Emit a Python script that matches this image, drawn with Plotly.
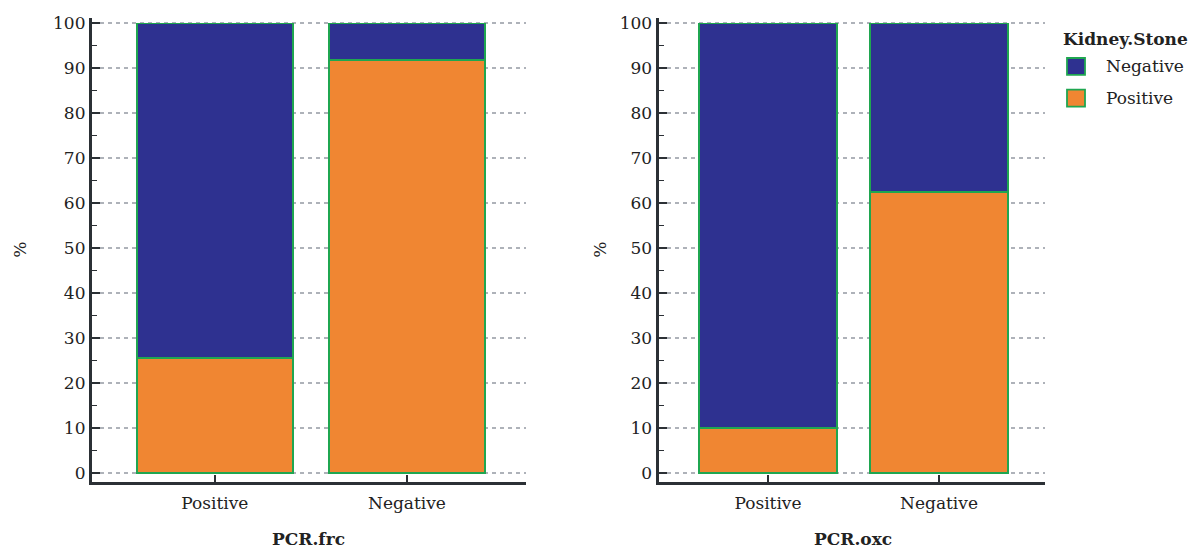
import plotly.graph_objects as go

# Share of kidney-stone status (%) within each PCR result group
categories = ["Positive", "Negative"]
frc_stone_positive = [25.5, 91.8]
frc_stone_negative = [74.5, 8.2]
oxc_stone_positive = [10.0, 62.5]
oxc_stone_negative = [90.0, 37.5]

legend_title = "Kidney.Stone"
legend_labels = ["Negative", "Positive"]

NAVY = "#2e3190"
ORANGE = "#f08632"
EDGE = "#1fa650"
FONT = "DejaVu Serif"
AXIS_COLOR = "#2b3035"
TEXT = "#222222"
W, H = 1193, 549

fig = go.Figure()

panels = [
    ("x", "y", frc_stone_positive, frc_stone_negative),
    ("x2", "y2", oxc_stone_positive, oxc_stone_negative),
]
for xa, ya, pos, neg in panels:
    fig.add_trace(go.Bar(
        x=categories, y=pos, name="Positive", xaxis=xa, yaxis=ya,
        marker=dict(color=ORANGE, line=dict(color=EDGE, width=1.8)),
        showlegend=False,
    ))
    fig.add_trace(go.Bar(
        x=categories, y=neg, name="Negative", xaxis=xa, yaxis=ya,
        marker=dict(color=NAVY, line=dict(color=EDGE, width=1.8)),
        showlegend=False,
    ))

yaxis_common = dict(
    range=[-2, 101.3], tickvals=list(range(0, 101, 10)),
    showline=True, linecolor=AXIS_COLOR, linewidth=3,
    ticks="inside", ticklen=8, tickwidth=2, tickcolor=AXIS_COLOR,
    minor=dict(tickvals=list(range(5, 100, 10)), ticks="inside", ticklen=5,
               tickwidth=1, tickcolor=AXIS_COLOR, showgrid=False),
    showgrid=True, gridcolor="#aeb2b9", griddash="4px,4px", gridwidth=1.5,
    zeroline=False, tickfont=dict(family=FONT, size=17, color=TEXT),
)
xaxis_common = dict(
    showline=True, linecolor=AXIS_COLOR, linewidth=3,
    ticks="inside", ticklen=7, tickwidth=2, tickcolor=AXIS_COLOR,
    showgrid=False, zeroline=False, range=[-0.64, 1.62],
    tickfont=dict(family=FONT, size=17, color=TEXT), ticklabelstandoff=4,
)

annotations = []
# y-axis titles
for xpix in (20, 600):
    annotations.append(dict(
        text="%", x=xpix / W, y=1 - 248 / H, xref="paper", yref="paper",
        showarrow=False, textangle=-90, xanchor="center", yanchor="middle",
        font=dict(family=FONT, size=17, color=TEXT),
    ))
# x-axis titles
for xpix, label in ((308, "PCR.frc"), (853, "PCR.oxc")):
    annotations.append(dict(
        text=f"<b>{label}</b>", x=xpix / W, y=1 - 540 / H, xref="paper", yref="paper",
        showarrow=False, xanchor="center", yanchor="middle",
        font=dict(family=FONT, size=17, color=TEXT),
    ))

# legend block
annotations.append(dict(
    text=f"<b>{legend_title}</b>", x=1061 / W, y=1 - 35 / H, xref="paper", yref="paper",
    showarrow=False, xanchor="left", yanchor="middle",
    font=dict(family=FONT, size=17, color=TEXT),
))
shapes = []
for i, (label, color) in enumerate(zip(legend_labels, [NAVY, ORANGE])):
    yc = 63 + 32 * i
    shapes.append(dict(
        type="rect", xref="paper", yref="paper",
        x0=1067 / W, x1=1085 / W, y0=1 - (yc - 8.5) / H, y1=1 - (yc + 8.5) / H,
        fillcolor=color, line=dict(color=EDGE, width=1.8),
    ))
    annotations.append(dict(
        text=label, x=1104 / W, y=1 - yc / H, xref="paper", yref="paper",
        showarrow=False, xanchor="left", yanchor="middle",
        font=dict(family=FONT, size=17, color=TEXT),
    ))

fig.update_layout(
    width=W, height=H,
    margin=dict(l=0, r=0, t=0, b=0),
    paper_bgcolor="white", plot_bgcolor="white",
    barmode="stack", bargap=0.19, showlegend=False,
    xaxis=dict(domain=[0.077, 0.441], anchor="y", **xaxis_common),
    yaxis=dict(domain=[0.122, 0.975], anchor="x", **yaxis_common),
    xaxis2=dict(domain=[0.552, 0.876], anchor="y2", **xaxis_common),
    yaxis2=dict(domain=[0.122, 0.975], anchor="x2", **yaxis_common),
    annotations=annotations, shapes=shapes,
)

fig.write_html("out.html")
